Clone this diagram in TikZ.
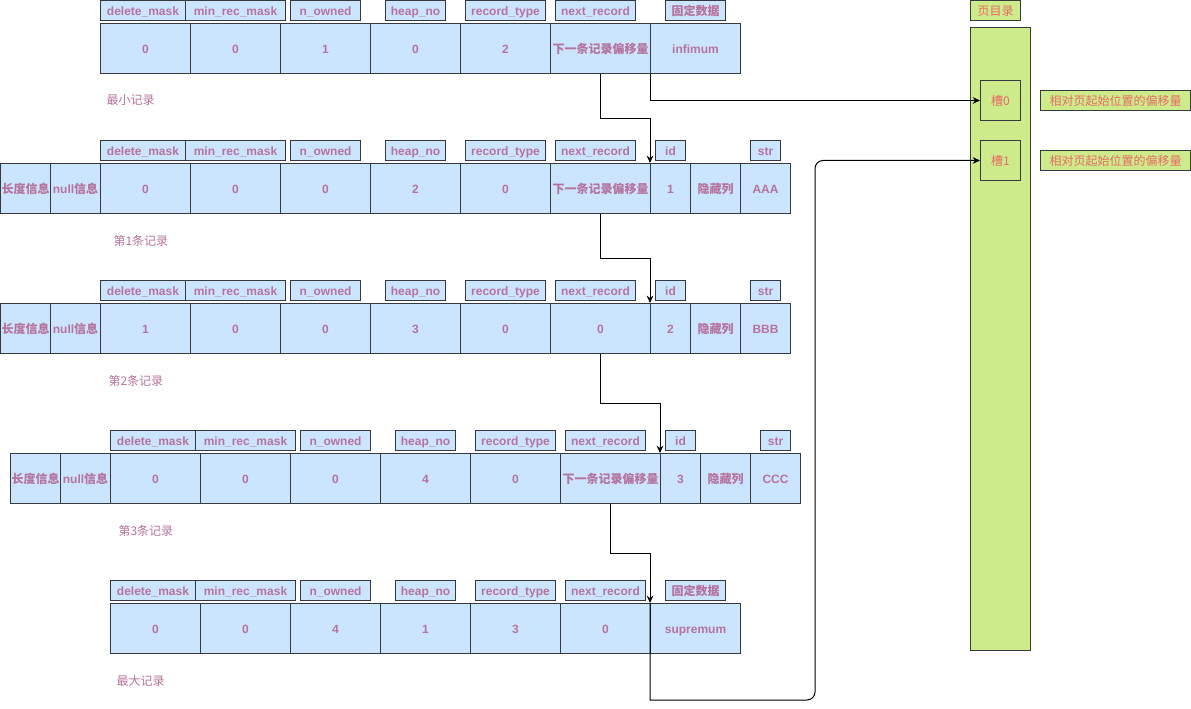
\documentclass[tikz,border=0pt]{standalone}
\usepackage{fontspec}
\setmainfont{Liberation Sans}
\newfontfamily\cjk{Noto Sans CJK SC}
\usetikzlibrary{arrows.meta,calc}
\definecolor{fldtext}{HTML}{B5739D}
\definecolor{dirtext}{HTML}{EA6B66}
\definecolor{fldfill}{HTML}{CCE5FF}
\definecolor{dirfill}{HTML}{CDEB8B}
\definecolor{boxline}{HTML}{36393D}
\begin{document}
\begin{tikzpicture}[x=0.75pt, y=-0.75pt, line width=0.75pt,
  every node/.style={font=\fontsize{9}{11}\selectfont, inner sep=0pt, anchor=north west, text height=8pt, text depth=0.8pt},
  cell/.style={draw=boxline, fill=fldfill, text=fldtext, font=\fontsize{9}{11}\selectfont\bfseries, minimum height=37.5pt},
  tag/.style={cell, minimum height=15pt},
  caption/.style={text=fldtext, anchor=west},
  dirbox/.style={draw=boxline, fill=dirfill, text=dirtext},
  link/.style={draw=black, -{Stealth[length=5.5pt,width=5pt]}},
  elbow/.style={to path={(\tikztostart) |- ($(\tikztostart)!0.5!(\tikztotarget)$) -| (\tikztotarget)}}]
  \useasboundingbox (0,0) rectangle (1191,709);
  \foreach \x/\w/\t [count=\i] in {100/85/delete\_mask,185/100/min\_rec\_mask,290/70/n\_owned,385/60/heap\_no,465/80/record\_type,555/80/next\_record,665/60/{\cjk 固定数据}}
    \node[tag, minimum width=\w*0.75pt] (r0t\i) at (\x,0) {\t};
  \foreach \x/\w/\t [count=\i] in {100/90/0,190/90/0,280/90/1,370/90/0,460/90/2,550/100/{\cjk 下一条记录偏移量},650/90/infimum}
    \node[cell, minimum width=\w*0.75pt] (r0c\i) at (\x,23) {\t};
  \foreach \r/\y/\s in {1/140/0,2/280/0,3/430/10}
    \foreach \x/\w/\t [count=\i] in {100/85/delete\_mask,185/100/min\_rec\_mask,290/70/n\_owned,385/60/heap\_no,465/80/record\_type,555/80/next\_record,655/30/id,750/30/str}
      \node[tag, minimum width=\w*0.75pt] (r\r t\i) at ({\x+\s},\y) {\t};
  \foreach \x/\w/\t [count=\i] in {0/50/{\cjk 长度信息},50/50/{null\cjk 信息},100/90/0,190/90/0,280/90/0,370/90/2,460/90/0,550/100/{\cjk 下一条记录偏移量},650/40/1,690/50/{\cjk 隐藏列},740/50/AAA}
    \node[cell, minimum width=\w*0.75pt] (r1c\i) at (\x,163) {\t};
  \foreach \x/\w/\t [count=\i] in {0/50/{\cjk 长度信息},50/50/{null\cjk 信息},100/90/1,190/90/0,280/90/0,370/90/3,460/90/0,550/100/0,650/40/2,690/50/{\cjk 隐藏列},740/50/BBB}
    \node[cell, minimum width=\w*0.75pt] (r2c\i) at (\x,303) {\t};
  \foreach \x/\w/\t [count=\i] in {10/50/{\cjk 长度信息},60/50/{null\cjk 信息},110/90/0,200/90/0,290/90/0,380/90/4,470/90/0,560/100/{\cjk 下一条记录偏移量},660/40/3,700/50/{\cjk 隐藏列},750/50/CCC}
    \node[cell, minimum width=\w*0.75pt] (r3c\i) at (\x,453) {\t};
  \foreach \x/\w/\t [count=\i] in {110/85/delete\_mask,195/100/min\_rec\_mask,300/70/n\_owned,395/60/heap\_no,475/80/record\_type,565/80/next\_record,665/60/{\cjk 固定数据}}
    \node[tag, minimum width=\w*0.75pt] (r4t\i) at (\x,580) {\t};
  \foreach \x/\w/\t [count=\i] in {110/90/0,200/90/0,290/90/4,380/90/1,470/90/3,560/90/0,650/90/supremum}
    \node[cell, minimum width=\w*0.75pt] (r4c\i) at (\x,603) {\t};
  \node[caption] (cap0) at (106,100) {\cjk 最小记录};
  \node[caption] (cap1) at (113,241) {\cjk 第1条记录};
  \node[caption] (cap2) at (108,381) {\cjk 第2条记录};
  \node[caption] (cap3) at (118,531) {\cjk 第3条记录};
  \node[caption] (cap4) at (116,681) {\cjk 最大记录};
  \node[dirbox, minimum width=50*0.75pt, minimum height=15pt] (dirtag) at (970,0) {\cjk 页目录};
  \node[dirbox, minimum width=45pt, minimum height=623*0.75pt] (pagedir) at (970,27) {};
  \node[dirbox, minimum width=30pt, minimum height=30pt] (slot0) at (980,80) {\cjk 槽0};
  \node[dirbox, minimum width=30pt, minimum height=30pt] (slot1) at (980,140) {\cjk 槽1};
  \node[dirbox, minimum width=150*0.75pt, minimum height=15pt] (off0) at (1040,90) {\cjk 相对页起始位置的偏移量};
  \node[dirbox, minimum width=150*0.75pt, minimum height=15pt] (off1) at (1040,150) {\cjk 相对页起始位置的偏移量};
  \draw[link] (r0c6.south) to[elbow] (r1c9.north west);
  \draw[link] (r1c8.south) to[elbow] (r2c9.north west);
  \draw[link] (r2c8.south) to[elbow] (r3c9.north west);
  \draw[link] (r3c8.south) to[elbow] (r4c7.north west);
  \draw[link] (r0c7.south west) |- (slot0.west);
  \coordinate (bend) at (815,700);
  \draw[link] (r4c7.north west) -- (r4c7.north west |- bend) [rounded corners=6pt] -- (bend) -- (bend |- slot1.west) -- (slot1.west);
\end{tikzpicture}
\end{document}
